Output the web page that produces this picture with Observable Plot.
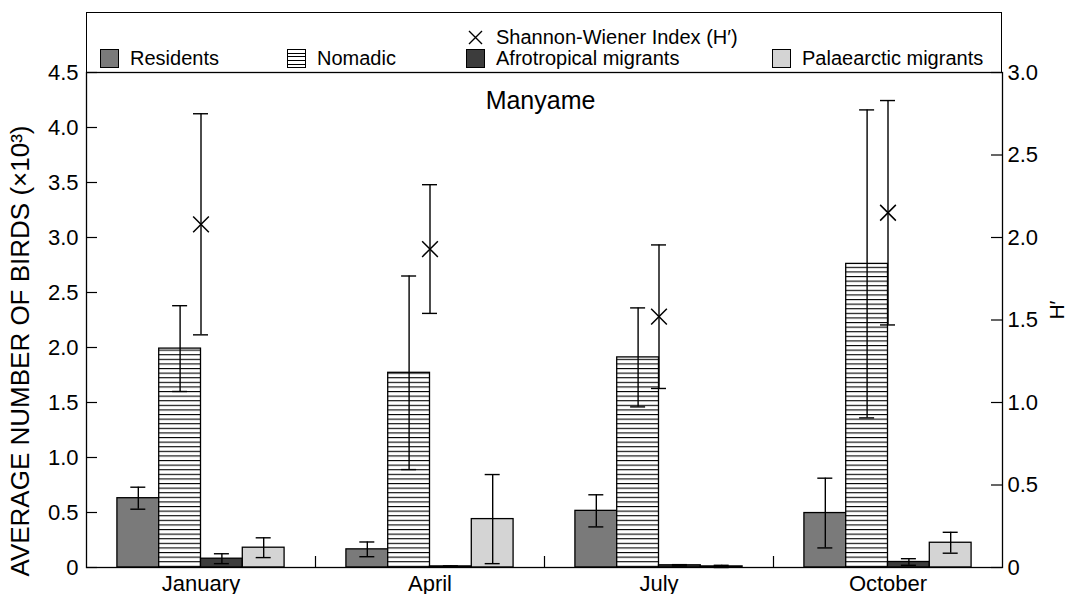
<!DOCTYPE html>
<html><head><meta charset="utf-8">
<script src="https://cdn.jsdelivr.net/npm/d3@7"></script>
<script src="https://cdn.jsdelivr.net/npm/@observablehq/plot@0.6"></script>
<style>
body{margin:0;background:#fff;font-family:"Liberation Sans",Arial,Helvetica,sans-serif;color:#000;}
#wrap{position:relative;width:1071px;height:594px;}
#legend{position:absolute;left:86px;top:12px;width:916px;height:61px;box-sizing:border-box;border:1px solid #000;border-bottom:none;font-size:20px;}
.item{position:absolute;height:20px;display:flex;align-items:center;white-space:nowrap;line-height:20px;}
.item span{line-height:20px;height:20px;display:block;}
.sw{width:19px;height:19px;box-sizing:border-box;border:1px solid #000;margin-right:11px;flex:none;}
</style></head>
<body><div id="wrap"><div id="chart"></div><div id="legend"></div></div>
<script>
// ---- data ----
const months = ["January", "April", "July", "October"];
const groups = ["Residents", "Nomadic", "Afrotropical migrants", "Palaearctic migrants"];
const residents    = [0.63, 0.165, 0.515, 0.495];
const residentsErr = [0.10, 0.067, 0.146, 0.317];
const nomadic      = [1.99, 1.77, 1.91, 2.76];
const nomadicErr   = [0.39, 0.88, 0.45, 1.40];
const afro         = [0.08, 0.01, 0.02, 0.05];
const afroErr      = [0.045, 0.005, 0.006, 0.03];
const palae        = [0.18, 0.44, 0.01, 0.225];
const palaeErr     = [0.09, 0.405, 0.01, 0.095];
const shannon      = [2.08, 1.93, 1.52, 2.15];
const shannonErr   = [0.67, 0.39, 0.435, 0.68];
const leftTicks  = [0, 0.5, 1.0, 1.5, 2.0, 2.5, 3.0, 3.5, 4.0, 4.5];
const rightTicks = [0, 0.5, 1.0, 1.5, 2.0, 2.5, 3.0];
const leftMax = 4.5, rightMax = 3.0;
const site = "Manyame";
const yTitle = "AVERAGE NUMBER OF BIRDS (×10³)";
const y2Title = "H′";
const hLabel = "Shannon-Wiener Index (H′)";
const fills = ["#7a7a7a", "url(#hstripes)", "#3c3c3c", "#d4d4d4"];
const swatchCss = ["background:#7a7a7a", "background:repeating-linear-gradient(to bottom,#fff 0 2.6px,#000 2.6px 3.7px)", "background:#3c3c3c", "background:#d4d4d4"];

// ---- layout ----
const W = 1071, H = 594, mL = 86, mR = 69, mT = 72, mB = 27;
const innerW = W - mL - mR, innerH = H - mT - mB;
const band = innerW / months.length;
const barW = band * 0.1825;
const pad = (band - groups.length * barW) / 2;
const capHalf = 7.5;
const k = leftMax / rightMax;

const seriesVals = [residents, nomadic, afro, palae];
const seriesErr = [residentsErr, nomadicErr, afroErr, palaeErr];

const barMarks = [], errMarks = [];
seriesVals.forEach((vals, i) => {
  const rows = months.map((m, j) => ({month: m, value: vals[j], err: seriesErr[i][j]}));
  const off = -band / 2 + pad + (i + 0.5) * barW;
  barMarks.push(Plot.barY(rows, {x: "month", y: "value", fill: fills[i], stroke: "#000", strokeWidth: 1.3,
    insetLeft: pad + i * barW, insetRight: band - pad - (i + 1) * barW}));
  errMarks.push(Plot.ruleX(rows, {x: "month", y1: d => d.value - d.err, y2: d => d.value + d.err, dx: off, stroke: "#000", strokeWidth: 1.4}));
  for (const s of [1, -1]) {
    errMarks.push(Plot.tickY(rows, {x: "month", y: d => d.value + s * d.err, stroke: "#000", strokeWidth: 1.4,
      insetLeft: band / 2 + off - capHalf, insetRight: band / 2 - off - capHalf}));
  }
});
const hRows = months.map((m, j) => ({month: m, h: shannon[j] * k, lo: (shannon[j] - shannonErr[j]) * k, hi: (shannon[j] + shannonErr[j]) * k}));
const hMarks = [
  Plot.ruleX(hRows, {x: "month", y1: "lo", y2: "hi", stroke: "#000", strokeWidth: 1.4}),
  Plot.tickY(hRows, {x: "month", y: "lo", stroke: "#000", strokeWidth: 1.4, insetLeft: band / 2 - capHalf, insetRight: band / 2 - capHalf}),
  Plot.tickY(hRows, {x: "month", y: "hi", stroke: "#000", strokeWidth: 1.4, insetLeft: band / 2 - capHalf, insetRight: band / 2 - capHalf}),
  Plot.dot(hRows, {x: "month", y: "h", symbol: "times", r: 7.2, stroke: "#000", strokeWidth: 1.5, fill: "none"})
];

const fmt = d => d === 0 ? "0" : d.toFixed(1);

const chart = Plot.plot({
  width: W, height: H,
  marginLeft: mL, marginRight: mR, marginTop: mT, marginBottom: mB,
  style: {fontFamily: '"Liberation Sans", Arial, Helvetica, sans-serif', fontSize: "22px", background: "transparent", color: "#000", overflow: "visible"},
  x: {domain: months, padding: 0},
  y: {domain: [0, leftMax]},
  marks: [
    ...barMarks,
    ...errMarks,
    ...hMarks,
    Plot.frame({stroke: "#000", strokeWidth: 1.3}),
    Plot.tickY(leftTicks, {y: d => d, stroke: "#000", strokeWidth: 1.2, insetRight: innerW - 11}),
    Plot.tickY(rightTicks.map(d => d * k), {y: d => d, stroke: "#000", strokeWidth: 1.2, insetLeft: innerW - 11}),
    Plot.tickX(months.slice(1), {x: d => d, dx: -band / 2, stroke: "#000", strokeWidth: 1.2, insetTop: innerH - 11}),
    Plot.axisY({anchor: "left", ticks: leftTicks, tickSize: 0, tickPadding: 8, tickFormat: fmt, label: null}),
    Plot.axisY({anchor: "right", ticks: rightTicks.map(d => d * k), tickSize: 0, tickPadding: 5, tickFormat: d => fmt(d / k), label: null}),
    Plot.axisX({tickSize: 0, tickPadding: 8, label: null}),
    Plot.text([yTitle], {frameAnchor: "left", textAnchor: "middle", rotate: -90, dx: -66, dy: 31, fontSize: 26, fill: "#000"}),
    Plot.text([y2Title], {frameAnchor: "right", textAnchor: "middle", rotate: -90, dx: 55, dy: -10, fontSize: 21, fill: "#000"}),
    Plot.text([site], {frameAnchor: "top", dy: 19, dx: -4, fontSize: 25, fill: "#000"})
  ]
});

// hatch pattern for Nomadic bars
const ns = "http://www.w3.org/2000/svg";
const defs = document.createElementNS(ns, "defs");
const pat = document.createElementNS(ns, "pattern");
pat.setAttribute("id", "hstripes");
pat.setAttribute("patternUnits", "userSpaceOnUse");
pat.setAttribute("width", "10");
pat.setAttribute("height", "4.6");
const bg = document.createElementNS(ns, "rect");
bg.setAttribute("width", "10"); bg.setAttribute("height", "4.6"); bg.setAttribute("fill", "#fff");
const ln = document.createElementNS(ns, "rect");
ln.setAttribute("y", "0"); ln.setAttribute("width", "10"); ln.setAttribute("height", "1.1"); ln.setAttribute("fill", "#000");
pat.appendChild(bg); pat.appendChild(ln); defs.appendChild(pat);
chart.insertBefore(defs, chart.firstChild);
document.getElementById("chart").appendChild(chart);

// legend
const legend = document.getElementById("legend");
const rowY1 = 14, rowY2 = 35;
const crossItem = document.createElement("div");
crossItem.className = "item";
crossItem.style.left = "381px"; crossItem.style.top = rowY1 + "px";
crossItem.innerHTML = `<svg width="15" height="15" style="margin-right:13px;flex:none"><path d="M1,1L14,14M14,1L1,14" stroke="#000" stroke-width="1.4"/></svg><span>${hLabel}</span>`;
legend.appendChild(crossItem);
const legendLeft = [13, 200, 379, 685];
groups.forEach((g, i) => {
  const it = document.createElement("div");
  it.className = "item";
  it.style.left = legendLeft[i] + "px"; it.style.top = rowY2 + "px";
  it.innerHTML = `<div class="sw" style="${swatchCss[i]}"></div><span>${g}</span>`;
  legend.appendChild(it);
});
</script>
</body></html>
